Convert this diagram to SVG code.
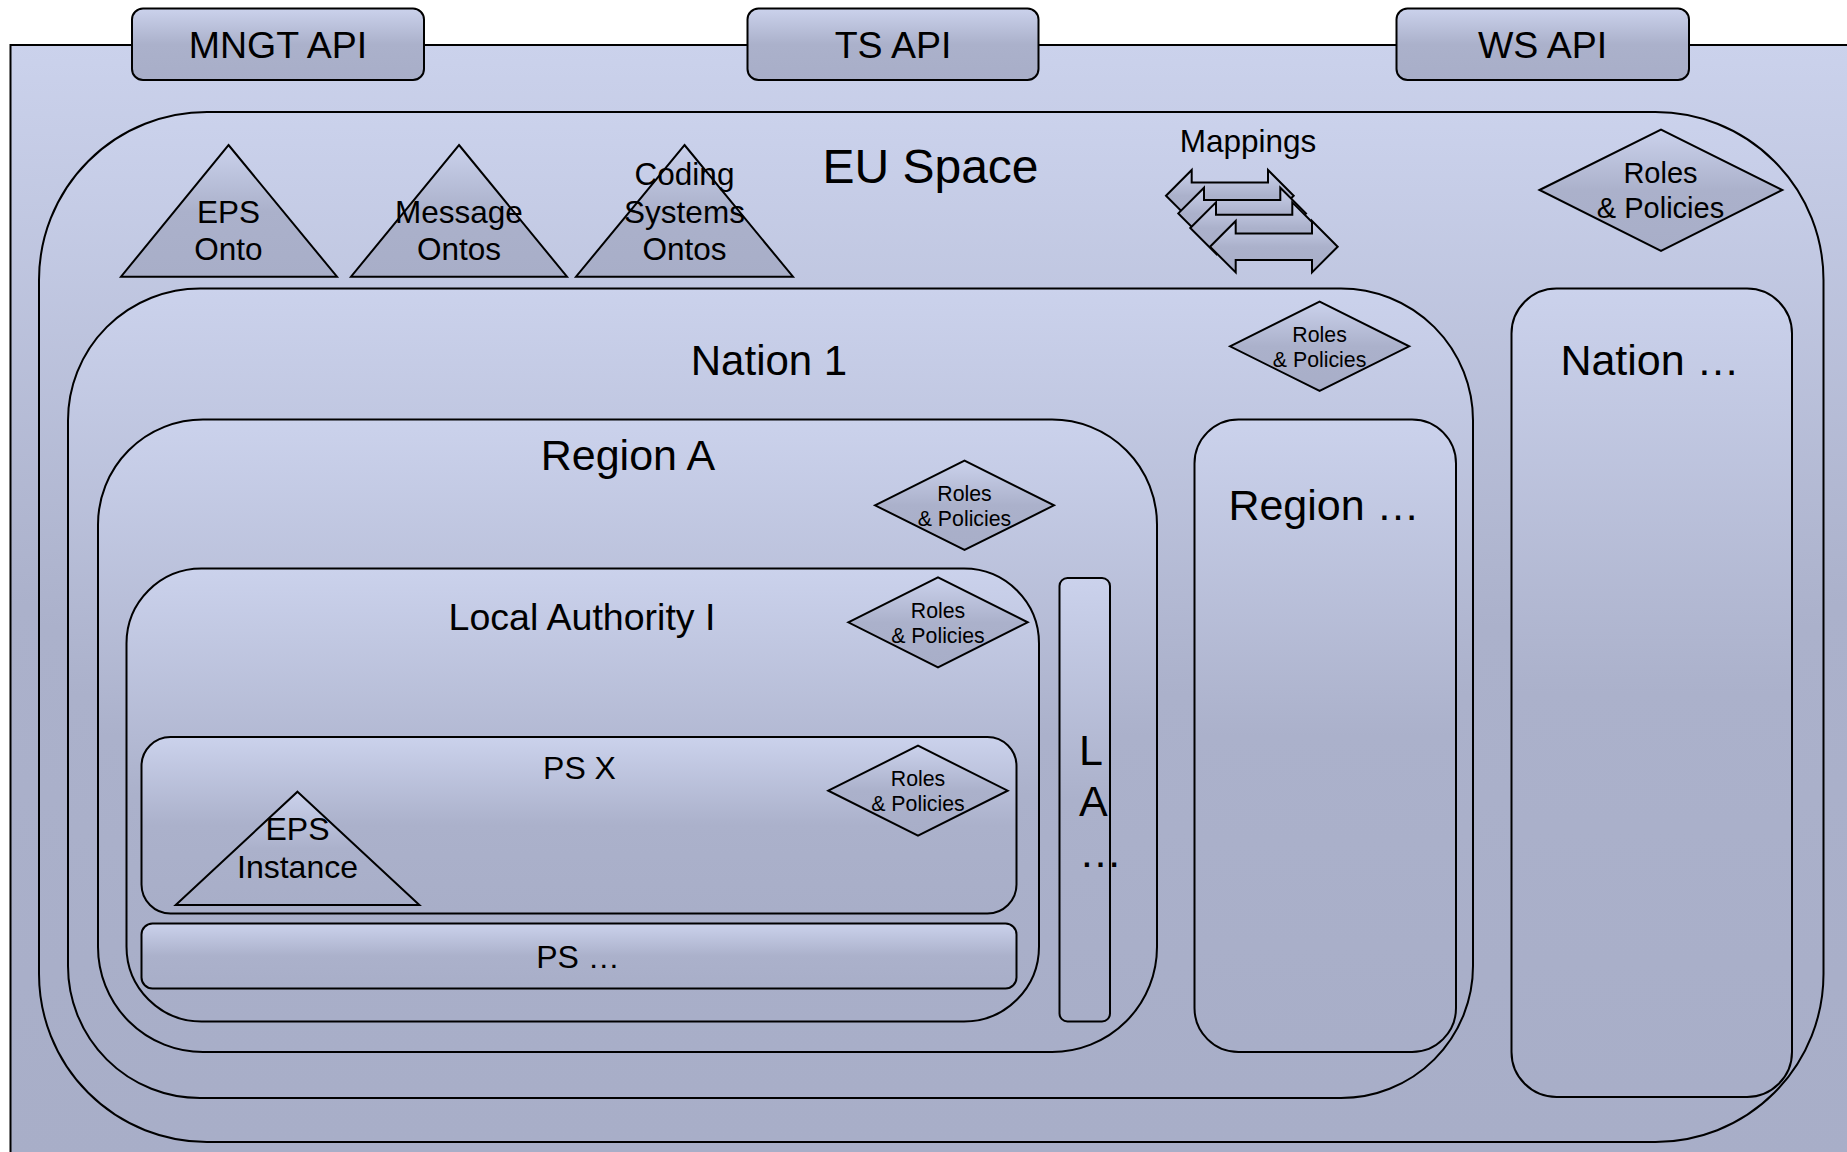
<svg xmlns="http://www.w3.org/2000/svg" xmlns:xlink="http://www.w3.org/1999/xlink" width="1847" height="1152" viewBox="0 0 1847 1152">
<defs>
<linearGradient id="g" x1="0" y1="0" x2="0" y2="1">
<stop offset="0" stop-color="#cbd2ec"/>
<stop offset="0.5" stop-color="#abb1cb"/>
<stop offset="1" stop-color="#a8aec8"/>
</linearGradient>
<path id="arr" d="M0,0 L25.7,-25.7 L25.7,-13.3 L102,-13.3 L102,-25.7 L127.7,0 L102,25.7 L102,13.3 L25.7,13.3 L25.7,25.7 Z"/>
</defs>
<style>
.s{fill:url(#g);stroke:#000;stroke-width:2}
text{font-family:"Liberation Sans",Arial,sans-serif;fill:#000;text-anchor:middle}
.t48{font-size:48px}
.t43{font-size:43px}
.t42{font-size:42px}
.t37{font-size:37.5px}
.t32{font-size:32px}
.t31{font-size:31.5px}
.t29{font-size:29px}
.t21{font-size:21.3px}
.tla{font-size:43px;text-anchor:start}
</style>
<rect width="1847" height="1152" fill="#ffffff"/>
<g id="background">
<rect class="s" x="10.5" y="45" width="1860" height="1120"/>
</g>
<g id="mngt-api">
<rect class="s" x="132" y="8.5" width="292" height="71.5" rx="11"/>
<text class="t37" x="278" y="58">MNGT API</text>
</g>
<g id="ts-api">
<rect class="s" x="747.5" y="8.5" width="291" height="71.5" rx="11"/>
<text class="t37" x="893" y="58">TS API</text>
</g>
<g id="ws-api">
<rect class="s" x="1396.5" y="8.5" width="292.5" height="71.5" rx="11"/>
<text class="t37" x="1542.5" y="58">WS API</text>
</g>
<g id="eu-space">
<rect class="s" x="39" y="112" width="1784.5" height="1030" rx="168"/>
<text class="t48" x="930.5" y="183">EU Space</text>
</g>
<g id="eps-onto">
<path class="s" d="M228.5,145 L337,276.7 L121,276.7 Z"/>
<text class="t31" x="228.5" y="223">EPS</text>
<text class="t31" x="228.5" y="260">Onto</text>
</g>
<g id="message-ontos">
<path class="s" d="M459,145 L567,276.7 L351,276.7 Z"/>
<text class="t31" x="459" y="223">Message</text>
<text class="t31" x="459" y="260">Ontos</text>
</g>
<g id="coding-ontos">
<path class="s" d="M684.5,145 L793,276.7 L576,276.7 Z"/>
<text class="t31" x="684.5" y="185">Coding</text>
<text class="t31" x="684.5" y="223">Systems</text>
<text class="t31" x="684.5" y="260">Ontos</text>
</g>
<g id="mappings">
<text class="t31" x="1248" y="151.5">Mappings</text>
<use xlink:href="#arr" class="s" transform="translate(1166,195.7)"/>
<use xlink:href="#arr" class="s" transform="translate(1178.3,213.4)"/>
<use xlink:href="#arr" class="s" transform="translate(1190.3,228)"/>
<use xlink:href="#arr" class="s" transform="translate(1210,246.7)"/>
</g>
<g id="eu-roles">
<path class="s" d="M1539.5,190 L1661,129.5 L1782.3,190 L1661,251 Z"/>
<text class="t29" x="1660.5" y="182.7">Roles</text>
<text class="t29" x="1660.5" y="218.3">&amp; Policies</text>
</g>
<g id="nation-1">
<rect class="s" x="68" y="288.5" width="1405" height="809.5" rx="132"/>
<text class="t42" x="769" y="375">Nation 1</text>
</g>
<g id="nation1-roles">
<path class="s" d="M1230,346.3 L1319.6,301.7 L1409.2,346.3 L1319.6,391 Z"/>
<text class="t21" x="1319.6" y="341.7">Roles</text>
<text class="t21" x="1319.6" y="366.7">&amp; Policies</text>
</g>
<g id="region-a">
<rect class="s" x="98" y="419.5" width="1059" height="632.5" rx="105"/>
<text class="t43" x="628" y="470">Region A</text>
</g>
<g id="regiona-roles">
<path class="s" d="M875,505.3 L964.5,460.7 L1054,505.3 L964.5,550 Z"/>
<text class="t21" x="964.5" y="500.5">Roles</text>
<text class="t21" x="964.5" y="526">&amp; Policies</text>
</g>
<g id="local-authority-i">
<rect class="s" x="126.5" y="568.5" width="912.5" height="453" rx="75"/>
<text class="t37" x="582" y="630">Local Authority I</text>
</g>
<g id="la-roles">
<path class="s" d="M848.3,622.3 L938,577.3 L1027.7,622.3 L938,667.3 Z"/>
<text class="t21" x="938" y="618.3">Roles</text>
<text class="t21" x="938" y="642.7">&amp; Policies</text>
</g>
<g id="ps-x">
<rect class="s" x="141.5" y="737" width="875" height="176.5" rx="29"/>
<text class="t32" x="579.5" y="779.3">PS X</text>
</g>
<g id="psx-roles">
<path class="s" d="M828.3,790.7 L918,745.7 L1007.7,790.7 L918,835.7 Z"/>
<text class="t21" x="918" y="786">Roles</text>
<text class="t21" x="918" y="810.7">&amp; Policies</text>
</g>
<g id="eps-instance">
<path class="s" d="M297.5,791.7 L419.4,905 L175.7,905 Z"/>
<text class="t32" x="297.5" y="840">EPS</text>
<text class="t32" x="297.5" y="878.3">Instance</text>
</g>
<g id="ps-more">
<rect class="s" x="141.5" y="923.5" width="875" height="65" rx="11"/>
<text class="t32" x="578" y="968.3">PS …</text>
</g>
<g id="la-more">
<rect class="s" x="1059.5" y="578" width="50.5" height="443.5" rx="8"/>
<text class="tla" x="1079" y="765">L</text>
<text class="tla" x="1079" y="816">A</text>
<text class="tla" x="1079" y="867">…</text>
</g>
<g id="region-more">
<rect class="s" x="1194.5" y="419.5" width="261.5" height="632.5" rx="44"/>
<text class="t43" x="1324" y="520">Region …</text>
</g>
<g id="nation-more">
<rect class="s" x="1511.5" y="288.5" width="280.5" height="808.5" rx="45"/>
<text class="t43" x="1650" y="375">Nation …</text>
</g>
<g id="connectors"/>
</svg>
